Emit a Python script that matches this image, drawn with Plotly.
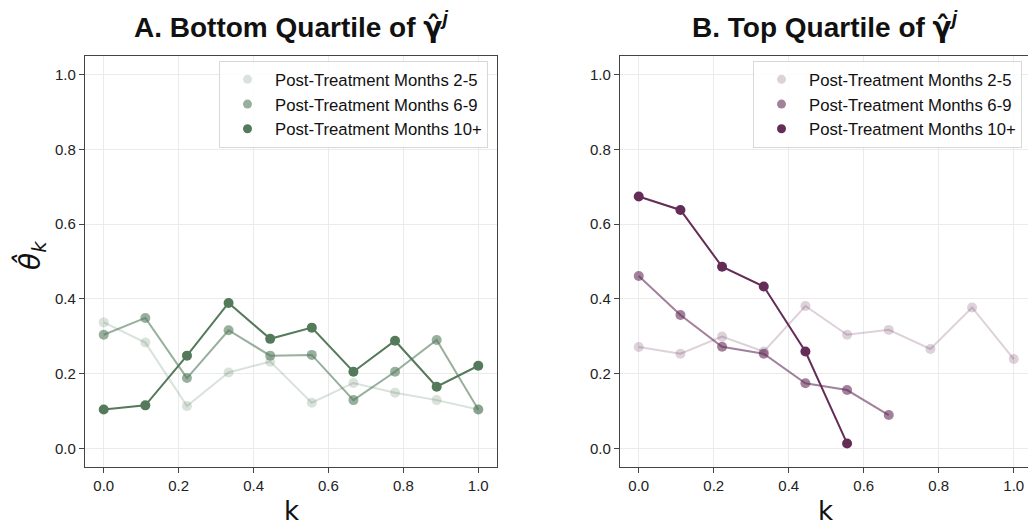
import plotly.graph_objects as go

k_vals = [0.0, 1/9, 2/9, 3/9, 4/9, 5/9, 6/9, 7/9, 8/9, 1.0]
series_names = ["Post-Treatment Months 2-5", "Post-Treatment Months 6-9", "Post-Treatment Months 10+"]

# Panel A: bottom quartile
bottom_m2_5 = [0.337, 0.283, 0.113, 0.203, 0.232, 0.122, 0.175, 0.149, 0.129, 0.104]
bottom_m6_9 = [0.304, 0.349, 0.188, 0.316, 0.248, 0.250, 0.129, 0.205, 0.290, 0.104]
bottom_m10p = [0.104, 0.115, 0.248, 0.389, 0.293, 0.323, 0.205, 0.288, 0.165, 0.221]

# Panel B: top quartile
top_m2_5 = [0.271, 0.253, 0.299, 0.259, 0.381, 0.304, 0.317, 0.266, 0.377, 0.239]
top_m6_9 = [0.461, 0.357, 0.272, 0.253, 0.174, 0.156, 0.089]
top_m10p = [0.674, 0.638, 0.486, 0.433, 0.259, 0.013]

tick_vals = [0.0, 0.2, 0.4, 0.6, 0.8, 1.0]
tick_text = ["0.0", "0.2", "0.4", "0.6", "0.8", "1.0"]

green = (84, 122, 91)
purple = (100, 45, 88)
alphas = [0.22, 0.6, 1.0]

W, H = 1028, 527

def rgba(c, a):
    return f"rgba({c[0]},{c[1]},{c[2]},{a})"

fig = go.Figure()

panels = [
    ("x", "y", "legend", green, [bottom_m2_5, bottom_m6_9, bottom_m10p]),
    ("x2", "y2", "legend2", purple, [top_m2_5, top_m6_9, top_m10p]),
]
for xa, ya, lg, col, series in panels:
    for name, vals, a in zip(series_names, series, alphas):
        fig.add_trace(go.Scatter(
            x=k_vals[:len(vals)], y=vals, mode="lines+markers",
            line=dict(color=rgba(col, a), width=2),
            marker=dict(color=rgba(col, a), size=10),
            xaxis=xa, yaxis=ya, showlegend=False, hoverinfo="skip"))
    for name, a in zip(series_names, alphas):
        fig.add_trace(go.Scatter(
            x=[None], y=[None], mode="markers", name=name,
            marker=dict(color=rgba(col, a), size=9),
            xaxis=xa, yaxis=ya, showlegend=True, legend=lg))

axis_common = dict(
    showgrid=True, gridcolor="#ebebeb", gridwidth=1,
    showline=True, linecolor="#444444", linewidth=1.3,
    ticks="outside", ticklen=5, tickwidth=1.2, tickcolor="#444444",
    tickfont=dict(family="Liberation Sans, Arial", size=15, color="#222222"),
    tickvals=tick_vals, ticktext=tick_text, zeroline=False,
)

legend_common = dict(
    yanchor="top", xanchor="right",
    bgcolor="rgba(255,255,255,0.85)", bordercolor="#d8d8d8", borderwidth=1,
    itemwidth=45,
    font=dict(family="Liberation Sans, Arial", size=16.7, color="#111111"),
)

ydom = [1 - 467 / H, 1 - 56 / H]
fig.update_layout(
    width=W, height=H,
    margin=dict(l=0, r=0, t=0, b=0),
    paper_bgcolor="white", plot_bgcolor="white",
    xaxis=dict(domain=[85 / W, 497 / W], range=[-0.05, 1.05], mirror=True, anchor="y", **axis_common),
    yaxis=dict(domain=ydom, range=[-0.05, 1.05], mirror=True, anchor="x", **axis_common),
    xaxis2=dict(domain=[620 / W, 1.0], range=[-0.05, 1.038], mirror=True, anchor="y2", **axis_common),
    yaxis2=dict(domain=ydom, range=[-0.05, 1.05], mirror=False, anchor="x2", **axis_common),
    legend=dict(x=488 / W, y=1 - 61 / H, **legend_common),
    legend2=dict(x=1022 / W, y=1 - 61 / H, **legend_common),
    showlegend=True,
)

title_font = dict(family="Liberation Sans, Arial", size=28, color="#111111")
gam = '<span style="font-family:DejaVu Sans">γ̂</span><sup><i>j</i></sup>'
fig.add_annotation(text=f"<b>A. Bottom Quartile of {gam}</b>", x=291 / W, y=1 - 25 / H,
                   xref="paper", yref="paper", showarrow=False, font=title_font,
                   xanchor="center", yanchor="middle")
fig.add_annotation(text=f"<b>B. Top Quartile of {gam}</b>", x=825 / W, y=1 - 25 / H,
                   xref="paper", yref="paper", showarrow=False, font=title_font,
                   xanchor="center", yanchor="middle")
label_font = dict(family="DejaVu Sans", size=26, color="#111111")
fig.add_annotation(text="k", x=291 / W, y=1 - 511 / H, xref="paper", yref="paper",
                   showarrow=False, font=label_font, xanchor="center", yanchor="middle")
fig.add_annotation(text="k", x=825 / W, y=1 - 511 / H, xref="paper", yref="paper",
                   showarrow=False, font=label_font, xanchor="center", yanchor="middle")
fig.add_annotation(text="<i>θ̂</i><sub><i>k</i></sub>", x=31 / W, y=1 - 256 / H, xref="paper", yref="paper",
                   showarrow=False, font=dict(family="DejaVu Sans", size=28, color="#111111"),
                   textangle=-90, xanchor="center", yanchor="middle")

fig.write_html("out.html", config={"displayModeBar": False},
               post_script="document.body.style.margin='0';document.body.style.overflow='hidden';")
